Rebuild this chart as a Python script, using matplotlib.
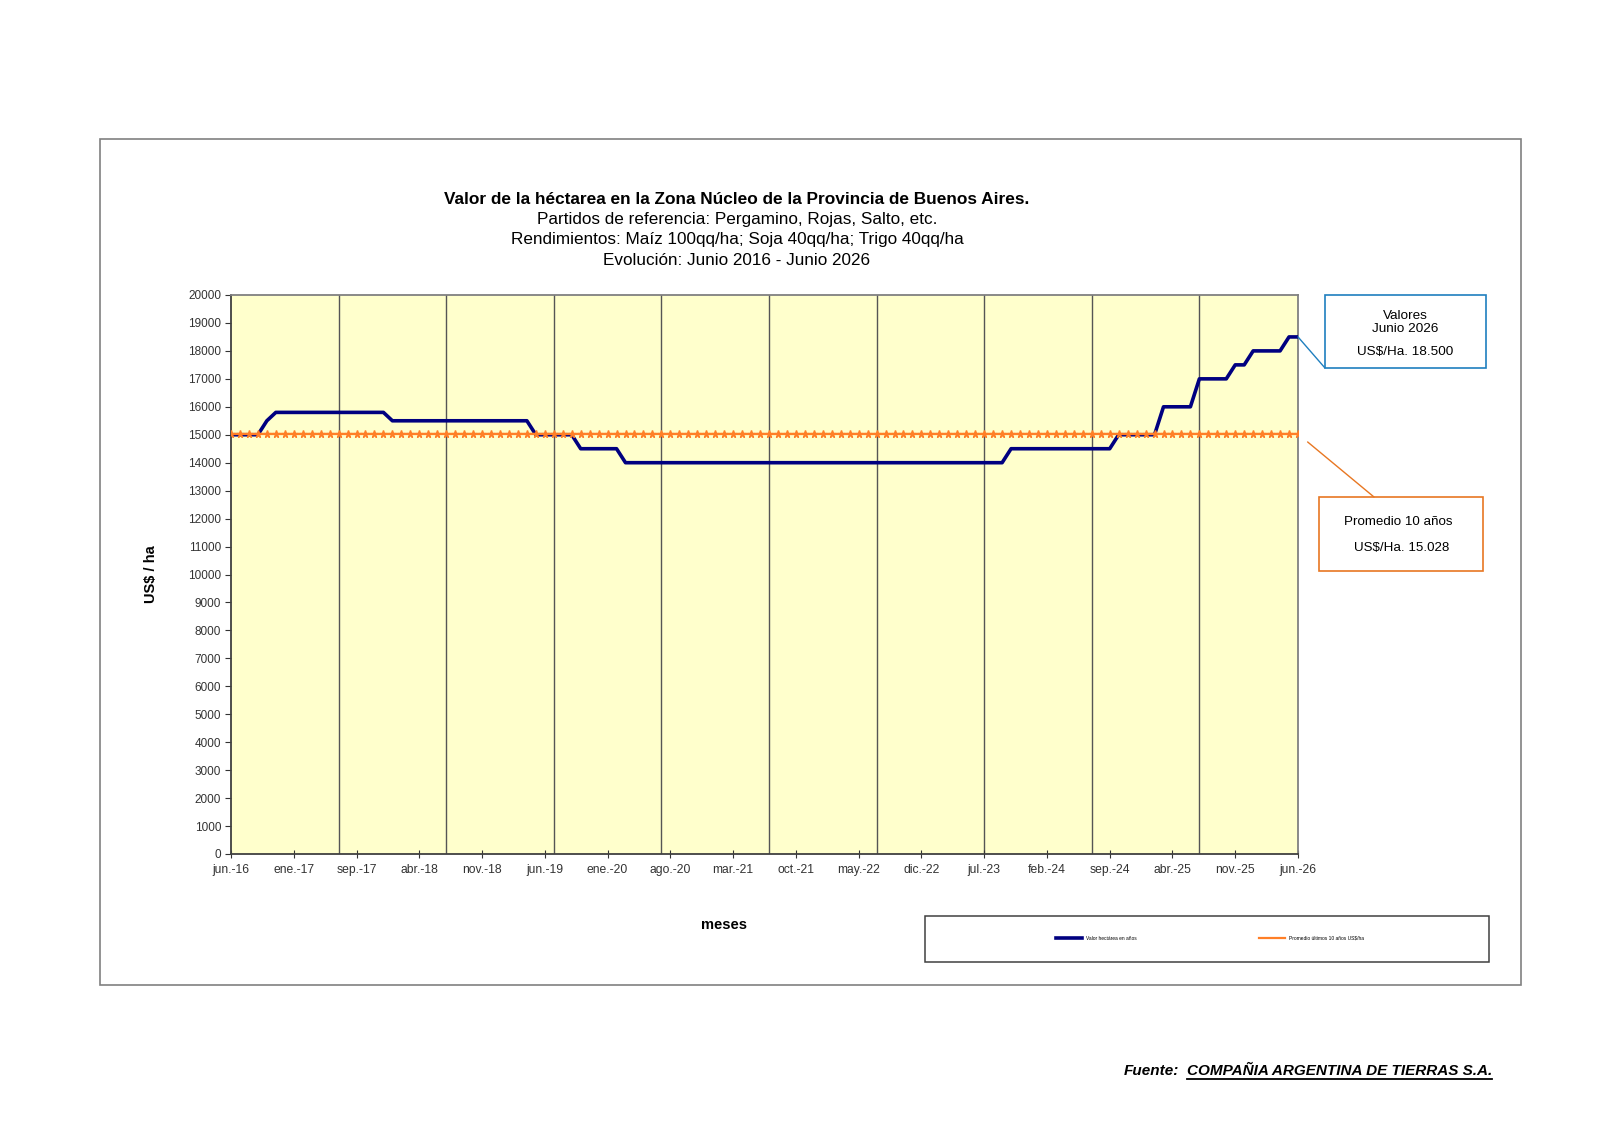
import numpy as np
import matplotlib
matplotlib.use('Agg')
from matplotlib import pyplot as plt
from matplotlib.patches import Rectangle
from matplotlib.lines import Line2D

plt.rcParams['font.family'] = ['Liberation Sans', 'DejaVu Sans']

# valor mensual US$/ha, jun-16 .. may-26 (una fila por año)
valores = [
    15000, 15000, 15000, 15000, 15500, 15800, 15800, 15800, 15800, 15800, 15800, 15800,
    15800, 15800, 15800, 15800, 15800, 15800, 15500, 15500, 15500, 15500, 15500, 15500,
    15500, 15500, 15500, 15500, 15500, 15500, 15500, 15500, 15500, 15500, 15000, 15000,
    15000, 15000, 15000, 14500, 14500, 14500, 14500, 14500, 14000, 14000, 14000, 14000,
    14000, 14000, 14000, 14000, 14000, 14000, 14000, 14000, 14000, 14000, 14000, 14000,
    14000, 14000, 14000, 14000, 14000, 14000, 14000, 14000, 14000, 14000, 14000, 14000,
    14000, 14000, 14000, 14000, 14000, 14000, 14000, 14000, 14000, 14000, 14000, 14000,
    14000, 14000, 14000, 14500, 14500, 14500, 14500, 14500, 14500, 14500, 14500, 14500,
    14500, 14500, 14500, 15000, 15000, 15000, 15000, 15000, 16000, 16000, 16000, 16000,
    17000, 17000, 17000, 17000, 17500, 17500, 18000, 18000, 18000, 18000, 18500, 18500,
]
promedio = 15028

etiquetas_meses = ['jun.-16', 'ene.-17', 'sep.-17', 'abr.-18', 'nov.-18', 'jun.-19',
                   'ene.-20', 'ago.-20', 'mar.-21', 'oct.-21', 'may.-22', 'dic.-22',
                   'jul.-23', 'feb.-24', 'sep.-24', 'abr.-25', 'nov.-25', 'jun.-26']

titulo = 'Valor de la héctarea en la Zona Núcleo de la Provincia de Buenos Aires.'
subtitulos = ['Partidos de referencia: Pergamino, Rojas, Salto, etc.',
              'Rendimientos: Maíz 100qq/ha; Soja 40qq/ha; Trigo 40qq/ha',
              'Evolución: Junio 2016 - Junio 2026']

W, H = 1600, 1131
def fx(x):
    return x / W
def fy(y):
    return 1 - y / H

fig = plt.figure(figsize=(16, 11.31), dpi=100)
fig.patch.set_facecolor('white')

# marco exterior
fig.add_artist(Rectangle((fx(100), fy(985)), fx(1521) - fx(100), fy(139) - fy(985),
                         transform=fig.transFigure, fill=False, edgecolor='#808080', lw=1.2))

ax = fig.add_axes([fx(231), fy(854), fx(1298) - fx(231), fy(295) - fy(854)])
ax.set_facecolor('#FFFFCC')

x = np.arange(len(valores))
linea_valor, = ax.plot(x, valores, color='#000080', lw=2.6, zorder=3,
                       label='Valor hectárea en años')
linea_prom, = ax.plot(x, [promedio] * len(valores), color='#FF7F27', lw=1.6,
                      marker='*', markersize=5.5, zorder=4,
                      label='Promedio últimos 10 años US$/ha')

ax.set_xlim(0, len(valores) - 1)
ax.set_ylim(0, 20000)
ax.set_yticks(range(0, 20001, 1000))
ax.tick_params(axis='y', direction='out', length=4, labelsize=8.5, colors='#333333', pad=3)

pos_etiquetas = list(range(0, len(valores), 7))
ax.set_xticks(pos_etiquetas)
ax.set_xticklabels(etiquetas_meses)
ax.tick_params(axis='x', direction='inout', length=6, labelsize=8.7, colors='#333333', pad=4)

for g in range(12, len(valores) - 1, 12):
    ax.axvline(g, color='#555555', lw=1, zorder=1)

for side in ['top', 'right']:
    ax.spines[side].set_color('#808080')
    ax.spines[side].set_linewidth(1.3)
for side in ['left', 'bottom']:
    ax.spines[side].set_color('#404040')
    ax.spines[side].set_linewidth(1.3)

ax.set_ylabel('US$ / ha', fontsize=10.5, fontweight='bold', labelpad=22)
fig.text(fx(724), fy(925), 'meses', fontsize=10.5, fontweight='bold', ha='center', va='center')

# titulos
fig.text(fx(737), fy(199), titulo, fontsize=12.4, fontweight='bold', ha='center', va='center')
for i, s in enumerate(subtitulos):
    fig.text(fx(737), fy(219.5 + 20.3 * i), s, fontsize=12.3, ha='center', va='center')

# cuadro valores junio 2026
fig.add_artist(Rectangle((fx(1325), fy(368)), fx(1486) - fx(1325), fy(295) - fy(368),
                         transform=fig.transFigure, fill=False, edgecolor='#1F7FBF', lw=1.2))
fig.text(fx(1405), fy(316), 'Valores', fontsize=9.7, ha='center', va='center')
fig.text(fx(1405), fy(329), 'Junio 2026', fontsize=9.7, ha='center', va='center')
fig.text(fx(1405), fy(352), 'US$/Ha. 18.500', fontsize=9.7, ha='center', va='center')
ax.annotate('', xy=(len(valores) - 1, valores[-1]), xycoords='data',
            xytext=(fx(1325), fy(368)), textcoords='figure fraction',
            arrowprops=dict(arrowstyle='-', color='#1F7FBF', lw=1, shrinkA=0, shrinkB=0),
            annotation_clip=False)

# cuadro promedio
fig.add_artist(Rectangle((fx(1319), fy(571)), fx(1483) - fx(1319), fy(497) - fy(571),
                         transform=fig.transFigure, fill=False, edgecolor='#E87722', lw=1.2))
fig.text(fx(1398), fy(522), 'Promedio 10 años', fontsize=9.6, ha='center', va='center')
fig.text(fx(1402), fy(548), 'US$/Ha. 15.028', fontsize=9.6, ha='center', va='center')
ax.annotate('', xy=(len(valores) - 1, promedio), xycoords='data',
            xytext=(fx(1374), fy(497)), textcoords='figure fraction',
            arrowprops=dict(arrowstyle='-', color='#E87722', lw=1, shrinkA=0, shrinkB=9),
            annotation_clip=False)

# leyenda
fig.add_artist(Rectangle((fx(925), fy(962)), fx(1489) - fx(925), fy(916) - fy(962),
                         transform=fig.transFigure, fill=False, edgecolor='#404040', lw=1.1))
fig.legend(handles=[linea_valor, linea_prom], loc='center', bbox_to_anchor=(fx(1210), fy(938)),
           ncol=2, frameon=False, fontsize=3.5, handlelength=5.5, handletextpad=0.8,
           columnspacing=25, markerscale=0)

# fuente
fig.text(fx(1124), fy(1071), 'Fuente:', fontsize=11, fontweight='bold', fontstyle='italic',
         ha='left', va='center')
fuente = fig.text(fx(1187), fy(1071), 'COMPAÑIA ARGENTINA DE TIERRAS S.A.', fontsize=11,
                  fontweight='bold', fontstyle='italic', ha='left', va='center')
fig.canvas.draw()
bb = fuente.get_window_extent()
fig.add_artist(Line2D([bb.x0 / W, bb.x1 / W], [(bb.y0 - 1) / H, (bb.y0 - 1) / H],
                      transform=fig.transFigure, color='black', lw=1.3))

fig.savefig('out.png', dpi=100)
